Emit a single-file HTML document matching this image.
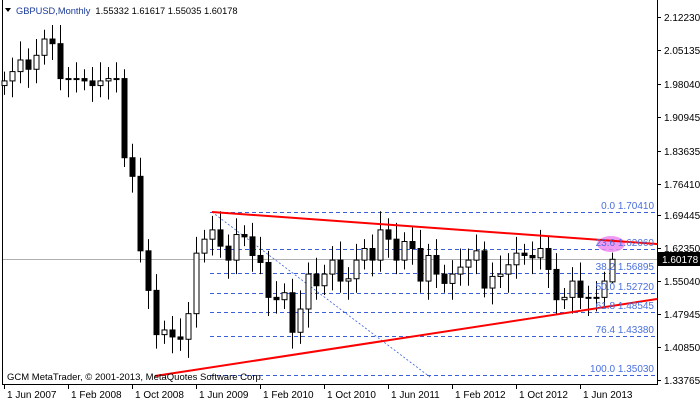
<!DOCTYPE html>
<html><head><meta charset="utf-8"><style>
body{margin:0;background:#fff;}
svg{display:block;font-family:"Liberation Sans",sans-serif;}
</style></head><body>
<svg id="c" width="700" height="402" xmlns="http://www.w3.org/2000/svg">
<rect width="700" height="402" fill="#fff"/>
<line x1="2.5" y1="0" x2="2.5" y2="384" stroke="#000"/>
<line x1="657.5" y1="0" x2="657.5" y2="384" stroke="#000"/>
<line x1="2" y1="384.5" x2="658" y2="384.5" stroke="#000"/>
<g id="fib" stroke="#3b5fd9" stroke-dasharray="4,3" stroke-width="1">
<line x1="210" y1="212.5" x2="657" y2="212.5"/>
<line x1="210" y1="249.5" x2="657" y2="249.5"/>
<line x1="210" y1="273.5" x2="657" y2="273.5"/>
<line x1="210" y1="293.5" x2="657" y2="293.5"/>
<line x1="210" y1="312.5" x2="657" y2="312.5"/>
<line x1="210" y1="336.5" x2="657" y2="336.5"/>
<line x1="210" y1="375.5" x2="657" y2="375.5"/>
</g>
<line x1="212" y1="212" x2="430" y2="377" stroke="#3b5fd9" stroke-dasharray="2,2" stroke-width="0.8"/>
<line x1="3" y1="259.5" x2="657" y2="259.5" stroke="#b0b0b0"/>
<ellipse cx="611" cy="244" rx="14" ry="8" fill="#ee88ee" opacity="0.85"/>
<g id="cand"></g>
<line x1="212" y1="212" x2="657" y2="244" stroke="#f00" stroke-width="2"/>
<line x1="155" y1="376" x2="657" y2="299" stroke="#f00" stroke-width="2"/>
<g font-size="10" fill="#4a6fe0" text-anchor="end">
<text x="654" y="209">0.0 1.70410</text>
<text x="654" y="246">23.6 1.62060</text>
<text x="654" y="270">38.2 1.56895</text>
<text x="654" y="290">50.0 1.52720</text>
<text x="654" y="309">61.8 1.48545</text>
<text x="654" y="333">76.4 1.43380</text>
<text x="654" y="372">100.0 1.35030</text>
</g>
<g font-size="10" fill="#000" id="yax"></g>
<rect x="658" y="252" width="42" height="14" fill="#000"/>
<text x="662" y="263" font-size="10" fill="#fff">1.60178</text>
<g font-size="10" fill="#000" id="xax"></g>
<polygon points="5,8 11,8 8,12" fill="#000"/>
<text x="16" y="14" font-size="9.3"><tspan fill="#1a3a9a">GBPUSD,Monthly</tspan><tspan fill="#000" dx="5">1.55332 1.61617 1.55035 1.60178</tspan></text>
<text x="7" y="380" font-size="9.5" fill="#000">GCM MetaTrader, © 2001-2013, MetaQuotes Software Corp.</text>
</svg>
<script>
var ns="http://www.w3.org/2000/svg";
function Y(p){return 17+(2.1223-p)*465.5;}
function el(t,a,par){var e=document.createElementNS(ns,t);for(var k in a)e.setAttribute(k,a[k]);par.appendChild(e);return e;}
var closes=[1.985,2.005,2.03,2.01,2.04,2.075,2.065,1.99,1.99,1.99,1.985,1.975,1.985,1.99,1.99,1.82,1.78,1.62,1.535,1.44,1.45,1.435,1.43,1.485,1.615,1.645,1.665,1.63,1.60,1.655,1.65,1.61,
1.595,1.52,1.515,1.53,1.445,1.495,1.57,1.545,1.57,1.60,1.555,1.56,1.60,1.625,1.60,1.665,1.645,1.60,1.64,1.625,1.555,1.61,1.57,1.55,
1.57,1.585,1.60,1.62,1.54,1.565,1.57,1.59,1.615,1.61,1.605,1.625,1.58,1.515,1.52,1.555,1.52,1.52,1.52,1.555,1.60178];
var g=document.getElementById('cand');
var open=1.975;
for(var i=0;i<closes.length;i++){
 var c=closes[i],o=(i==0?open:closes[i-1]);
 if(i==closes.length-1)o=1.55332;
 var hi=Math.max(o,c)+0.02+0.02*((i*7)%5)/4, lo=Math.min(o,c)-0.02-0.02*((i*3)%5)/4;
 if(i==closes.length-1){hi=1.61617;lo=1.55035;}
 var x=4+i*8;
 el('line',{x1:x+0.5,y1:Y(hi),x2:x+0.5,y2:Y(lo),stroke:'#000'},g);
 var t=Y(Math.max(o,c)),b=Y(Math.min(o,c));if(b-t<1)b=t+1;
 el('rect',{x:x-2,y:t,width:5,height:b-t,fill:c>=o?'#fff':'#000',stroke:'#000','stroke-width':1},g);
}
var ya=document.getElementById('yax');
var labs=[["2.12230",17],["2.05135",50],["1.98040",84],["1.90945",117],["1.83635",151],["1.76410",184],["1.69445",215],["1.62350",248],["1.55040",281],["1.47945",314],["1.40850",347],["1.33765",380]];
labs.forEach(function(l){el('line',{x1:657,y1:l[1]+0.5,x2:661,y2:l[1]+0.5,stroke:'#000'},ya);var t=el('text',{x:664,y:l[1]+4},ya);t.textContent=l[0];});
var xa=document.getElementById('xax');
var xl=["1 Jun 2007","1 Feb 2008","1 Oct 2008","1 Jun 2009","1 Feb 2010","1 Oct 2010","1 Jun 2011","1 Feb 2012","1 Oct 2012","1 Jun 2013"];
xl.forEach(function(s,i){var x=4+i*64;el('line',{x1:x+0.5,y1:384,x2:x+0.5,y2:389,stroke:'#000'},xa);var t=el('text',{x:x+3,y:398},xa);t.textContent=s;});
</script>
</body></html>
